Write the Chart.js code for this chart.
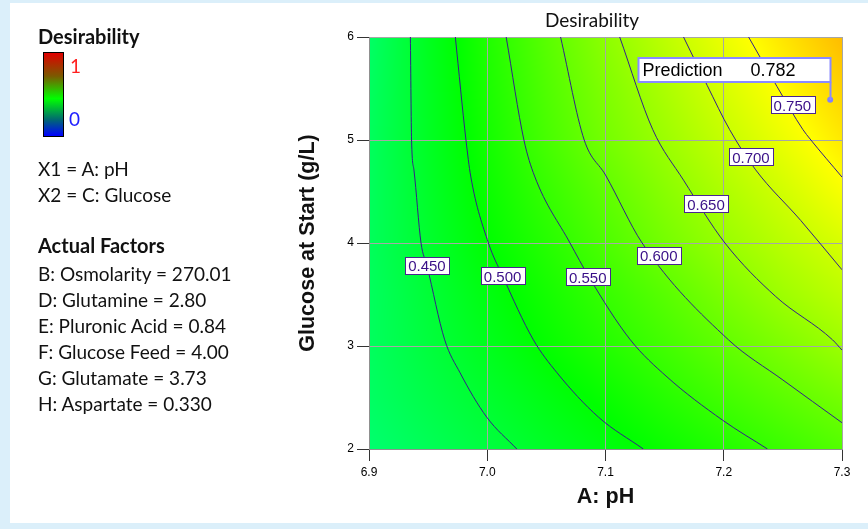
<!DOCTYPE html>
<html><head><meta charset="utf-8">
<script src="https://cdn.jsdelivr.net/npm/chart.js@4.4.1/dist/chart.umd.min.js"></script>
<style>
html,body{margin:0;padding:0;}
body{width:868px;height:529px;position:relative;background:#dbeffa;overflow:hidden;font-family:Lato,sans-serif;}
#panel{position:absolute;left:10px;top:3px;width:858px;height:520px;background:#fff;}
#c{position:absolute;left:0;top:0;}
.t{position:absolute;left:38px;white-space:nowrap;font-size:19px;line-height:26px;color:#111;}
.b{font-weight:bold;font-size:20px;}
#bar{position:absolute;left:43px;top:52px;width:19px;height:83px;border:1px solid #000;
 background:linear-gradient(to bottom,#e00000 0%,#7a5a00 28%,#00ff00 55%,#006a70 80%,#0000ff 100%);}
#title{position:absolute;left:492px;width:200px;text-align:center;top:9px;font-size:19px;line-height:22px;color:#111;}
</style></head>
<body>
<div id="panel"></div>
<canvas id="c" width="868" height="529"></canvas>
<div class="t b" style="top:23px">Desirability</div>
<div id="bar"></div>
<div class="t" style="left:70px;top:53px;color:#ff2020">1</div>
<div class="t" style="left:69px;top:106px;color:#2020ff">0</div>
<div class="t" style="top:156px">X1 = A: pH</div>
<div class="t" style="top:182px">X2 = C: Glucose</div>
<div class="t b" style="top:232px">Actual Factors</div>
<div class="t" style="top:261px">B: Osmolarity = 270.01</div>
<div class="t" style="top:287px">D: Glutamine = 2.80</div>
<div class="t" style="top:313px">E: Pluronic Acid = 0.84</div>
<div class="t" style="top:339px">F: Glucose Feed = 4.00</div>
<div class="t" style="top:365px">G: Glutamate = 3.73</div>
<div class="t" style="top:391px">H: Aspartate = 0.330</div>
<div id="title">Desirability</div>
<script>
// ---- axis ticks ----
const phTicks = [6.9, 7.0, 7.1, 7.2, 7.3];
const glucoseTicks = [2, 3, 4, 5, 6];

// ---- desirability surface, read at grid nodes (pH columns, glucose rows) ----
const gridPH = [6.9, 6.95, 7.0, 7.05, 7.1, 7.15, 7.2, 7.25, 7.3];
const gridGlucose = [2, 2.5, 3, 3.5, 4, 4.5, 5, 5.5, 6];
const dG20 = [0.392, 0.415, 0.438, 0.462, 0.485, 0.509, 0.532, 0.556, 0.581];
const dG25 = [0.403, 0.429, 0.455, 0.482, 0.508, 0.537, 0.564, 0.590, 0.615];
const dG30 = [0.408, 0.440, 0.472, 0.504, 0.534, 0.564, 0.594, 0.623, 0.653];
const dG35 = [0.408, 0.446, 0.484, 0.519, 0.553, 0.586, 0.621, 0.655, 0.684];
const dG40 = [0.411, 0.455, 0.499, 0.536, 0.575, 0.614, 0.649, 0.681, 0.711];
const dG45 = [0.409, 0.460, 0.509, 0.552, 0.593, 0.633, 0.670, 0.705, 0.743];
const dG50 = [0.409, 0.465, 0.518, 0.569, 0.614, 0.653, 0.692, 0.731, 0.771];
const dG55 = [0.405, 0.467, 0.525, 0.578, 0.625, 0.668, 0.711, 0.753, 0.794];
const dG60 = [0.400, 0.470, 0.531, 0.587, 0.638, 0.685, 0.731, 0.775, 0.816];

// ---- contour lines [pH, glucose] ----
const c450 = [[6.935,6.0],[6.936,5.0],[6.938,4.71],[6.944,4.0],[6.949,3.78],[6.964,3.06],[6.977,2.74],[6.9995,2.31],[7.025,2.0]];
const c500 = [[6.973,6.0],[6.982,5.0],[6.986,4.65],[7.001,4.0],[7.013,3.68],[7.039,3.06],[7.059,2.74],[7.094,2.31],[7.132,2.0]];
const c550 = [[7.016,6.0],[7.031,5.0],[7.040,4.65],[7.070,4.0],[7.086,3.67],[7.121,3.06],[7.152,2.70],[7.199,2.28],[7.237,2.0]];
const c600 = [[7.062,6.0],[7.082,5.0],[7.100,4.66],[7.131,4.0],[7.204,3.06],[7.250,2.67],[7.300,2.255]];
const c650 = [[7.112,6.0],[7.140,5.10],[7.166,4.61],[7.201,4.0],[7.244,3.48],[7.292,3.06],[7.300,2.96]];
const c700 = [[7.166,6.0],[7.186,5.53],[7.205,5.10],[7.227,4.71],[7.265,4.22],[7.300,3.74]];
const c750 = [[7.221,6.0],[7.245,5.52],[7.267,5.10],[7.273,5.01],[7.300,4.64]];

// ---- contour label texts and positions ----
const labelTexts = ["0.450","0.500","0.550","0.600","0.650","0.700","0.750"];
const labelPH =    [6.949, 7.013, 7.085, 7.145, 7.185, 7.223, 7.258];
const labelGlu =   [3.78,  3.68,  3.67,  3.88,  4.38,  4.835, 5.34];

// ---- prediction ----
const predPH = [7.29];
const predGlu = [5.39];
const predValue = 0.782;

const surface = [dG20,dG25,dG30,dG35,dG40,dG45,dG50,dG55,dG60];

function interp(p, g){
  const nx = gridPH.length, ny = gridGlucose.length;
  let fx = (p - gridPH[0])/(gridPH[nx-1]-gridPH[0])*(nx-1);
  let fy = (g - gridGlucose[0])/(gridGlucose[ny-1]-gridGlucose[0])*(ny-1);
  fx = Math.min(Math.max(fx,0),nx-1.0001); fy = Math.min(Math.max(fy,0),ny-1.0001);
  const i = Math.floor(fx), j = Math.floor(fy), tx = fx-i, ty = fy-j;
  const a = surface[j][i], b = surface[j][i+1], c = surface[j+1][i], d = surface[j+1][i+1];
  return (a*(1-tx)+b*tx)*(1-ty) + (c*(1-tx)+d*tx)*ty;
}
function cmap(d){
  const t = Math.min(Math.max(d,0),1);
  if (t < 0.25) return [0, 255*t/0.25, 255];
  if (t < 0.5) return [0, 255, 255*(0.5-t)/0.25];
  if (t < 0.75) return [255*(t-0.5)/0.25, 255, 0];
  return [255, 255*(1-t)/0.25, 0];
}

const fillPlugin = {
  id: 'surfaceFill',
  beforeDraw(chart){
    const {ctx, chartArea:a, scales:{x, y}} = chart;
    const L = Math.round(a.left), T = Math.round(a.top);
    const w = Math.round(a.right) - L, h = Math.round(a.bottom) - T;
    const img = ctx.createImageData(w, h);
    for (let j = 0; j < h; j++){
      const gv = y.getValueForPixel(T + j + 0.5);
      for (let i = 0; i < w; i++){
        const pv = x.getValueForPixel(L + i + 0.5);
        const col = cmap(interp(pv, gv));
        const k = (j*w + i)*4;
        img.data[k] = col[0]; img.data[k+1] = col[1]; img.data[k+2] = col[2]; img.data[k+3] = 255;
      }
    }
    ctx.putImageData(img, L, T);
  }
};

const labelPlugin = {
  id: 'contourLabels',
  afterDatasetsDraw(chart){
    const {ctx, scales:{x, y}} = chart;
    ctx.save();
    ctx.font = '15px "Liberation Sans", Arial, sans-serif';
    ctx.textAlign = 'center'; ctx.textBaseline = 'middle';
    labelTexts.forEach((txt, k) => {
      const px = x.getPixelForValue(labelPH[k]), py = y.getPixelForValue(labelGlu[k]);
      const w = ctx.measureText(txt).width + 6, h = 17;
      ctx.fillStyle = '#ffffff';
      ctx.fillRect(Math.round(px - w/2)+0.5, Math.round(py - h/2)+0.5, Math.round(w), h);
      ctx.strokeStyle = '#4a2590'; ctx.lineWidth = 1;
      ctx.strokeRect(Math.round(px - w/2)+0.5, Math.round(py - h/2)+0.5, Math.round(w), h);
      ctx.fillStyle = '#3a1088';
      ctx.fillText(txt, px, py + 1.5);
    });
    // prediction box
    const px = Math.round(x.getPixelForValue(predPH[0])) + 0.5;
    const py = Math.round(y.getPixelForValue(predGlu[0]));
    const bw = 192, bh = 24, bb = py - 18;
    ctx.strokeStyle = '#8a8aff'; ctx.lineWidth = 2;
    ctx.beginPath(); ctx.moveTo(px, bb); ctx.lineTo(px, py); ctx.stroke();
    ctx.fillStyle = '#ffffff';
    ctx.fillRect(px - bw, bb - bh, bw, bh);
    ctx.strokeRect(px - bw, bb - bh, bw, bh);
    ctx.fillStyle = '#000';
    ctx.font = '18px "Liberation Sans", Arial, sans-serif';
    ctx.textAlign = 'left';
    ctx.fillText('Prediction', px - bw + 4, bb - bh/2 + 1);
    ctx.fillText(predValue.toFixed(3), px - bw + 112, bb - bh/2 + 1);
    ctx.restore();
  }
};

const lineColor = '#34208a';
const contourSets = [c450,c500,c550,c600,c650,c700,c750].map((c, k) => ({
  label: labelTexts[k],
  data: c.map(p => ({x: p[0], y: p[1]})),
  showLine: true, borderColor: lineColor, borderWidth: 1, pointRadius: 0,
  cubicInterpolationMode: 'monotone', fill: false
}));
contourSets.push({
  label: 'Prediction',
  data: predPH.map((p, k) => ({x: p, y: predGlu[k]})),
  showLine: false, pointRadius: 3, pointBackgroundColor: '#8080ff', pointBorderColor: '#8080ff', pointBorderWidth: 0
});

new Chart(document.getElementById('c'), {
  type: 'scatter',
  data: { datasets: contourSets },
  options: {
    responsive: false, animation: false, devicePixelRatio: 1,
    layout: { padding: { left: 290, right: 26, top: 37, bottom: 0 } },
    plugins: { legend: { display: false }, tooltip: { enabled: false }, title: { display: false } },
    scales: {
      x: {
        type: 'linear', min: phTicks[0], max: phTicks[phTicks.length-1],
        afterBuildTicks: s => { s.ticks = phTicks.map(v => ({value: v})); },
        afterFit: s => { s.height = 80; },
        ticks: { callback: v => Number(v).toFixed(1), color: '#000', padding: 4,
                 font: { family: '"Liberation Sans", Arial, sans-serif', size: 12 }, maxRotation: 0 },
        grid: { color: '#a6a6a6', lineWidth: 1, tickColor: '#333', tickLength: 12 },
        border: { color: '#909090', width: 1 },
        title: { display: true, text: 'A: pH', color: '#111',
                 font: { family: '"Liberation Sans", Arial, sans-serif', size: 21.5, weight: 'bold' },
                 padding: { top: 0, bottom: 19 } }
      },
      y: {
        type: 'linear', min: glucoseTicks[0], max: glucoseTicks[glucoseTicks.length-1],
        afterBuildTicks: s => { s.ticks = glucoseTicks.map(v => ({value: v})); },
        afterFit: s => { s.width = 79; },
        ticks: { color: '#000', padding: 3,
                 font: { family: '"Liberation Sans", Arial, sans-serif', size: 12 } },
        grid: { color: '#a6a6a6', lineWidth: 1, tickColor: '#333', tickLength: 12 },
        border: { color: '#909090', width: 1 },
        title: { display: true, text: 'Glucose at Start (g/L)', color: '#111',
                 font: { family: '"Liberation Sans", Arial, sans-serif', size: 21.5, weight: 'bold' },
                 padding: { top: 5, bottom: 0 } }
      }
    }
  },
  plugins: [fillPlugin, labelPlugin]
});
</script>
</body></html>
